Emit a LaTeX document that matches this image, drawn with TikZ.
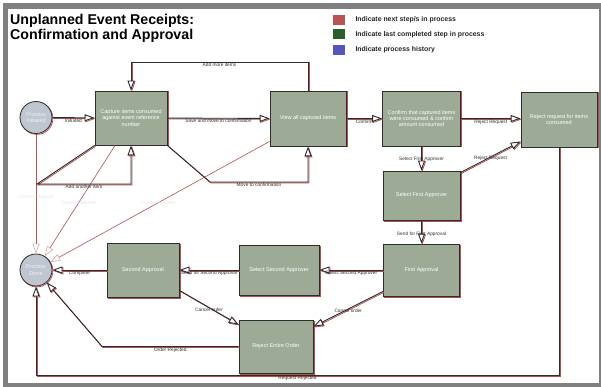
\documentclass[tikz,border=0pt]{standalone}
\usepackage{fontspec}
\setmainfont{Liberation Sans}
\usetikzlibrary{arrows.meta,positioning,calc}

\definecolor{framegray}{RGB}{128,128,128}
\definecolor{boxfill}{RGB}{156,170,150}
\definecolor{boxline}{RGB}{45,45,45}
\definecolor{rimred}{RGB}{180,80,80}
\definecolor{circfill}{RGB}{192,197,210}
\definecolor{keyred}{RGB}{186,84,84}
\definecolor{keygreen}{RGB}{44,94,44}
\definecolor{keyblue}{RGB}{86,86,184}
\definecolor{lblgray}{RGB}{50,50,50}
\definecolor{faintgray}{RGB}{228,228,228}

\tikzset{
  redrim/.style={preaction={draw=rimred, line width=0.8pt, transform canvas={shift={(0.9pt,-0.9pt)}}}},
  stepbox/.style={draw=boxline, fill=boxfill, line width=0.8pt, redrim, inner sep=1pt,
    align=center, text=white, font=\fontsize{5.5}{6.4}\selectfont},
  endpoint/.style={circle, draw=boxline, fill=circfill, line width=0.8pt, redrim,
    minimum size=32pt, inner sep=0pt, align=center, text=white!90!gray,
    font=\fontsize{5.5}{6.4}\selectfont},
  conn/.style={draw=boxline, line width=0.9pt, redrim,
    -{Triangle[length=10pt, width=7pt, fill=white]}},
  hist/.style={draw=rimred, line width=0.6pt,
    -{Triangle[length=10pt, width=7pt, fill=white, color=rimred!50]}},
  lbl/.style={font=\fontsize{4.8}{5.5}\selectfont, text=lblgray, inner sep=0.6pt},
  faint/.style={font=\fontsize{4.8}{5.5}\selectfont, text=faintgray, inner sep=0.6pt},
  keybox/.style={minimum width=12pt, minimum height=10pt, inner sep=0pt},
  keytext/.style={anchor=west, font=\fontsize{6.9}{8}\selectfont\bfseries, text=black!85},
}

\begin{document}
\begin{tikzpicture}[x=1pt, y=-1pt]
    \useasboundingbox (0,0) rectangle (601,387);

    % Frame
    \fill[framegray] (3,3) rectangle (601,387);
    \fill[white] (8,9) rectangle (598.5,383);

    % Title
    \node[anchor=base west, inner sep=0pt, font=\fontsize{14.2}{16}\selectfont\bfseries] (title1) at (10,24.7) {Unplanned Event Receipts:};
    \node[anchor=base west, inner sep=0pt, font=\fontsize{14.2}{16}\selectfont\bfseries] (title2) at (10,39.3) {Confirmation and Approval};

    % Legend
    \node[keybox, fill=keyred] (kred) at (339,20) {};
    \node[keybox, fill=keygreen] (kgreen) at (339,34.5) {};
    \node[keybox, fill=keyblue] (kblue) at (339,50) {};
    \node[keytext] at (352,20) {Indicate next step/s in process};
    \node[keytext] at (352,34.5) {Indicate last completed step in process};
    \node[keytext] at (352,50) {Indicate process history};

    % Steps
    \node[endpoint] (init) at (36,117.5) {Process\\Initiated};
    \node[stepbox, minimum width=72pt, minimum height=54pt] (capture) at (131,118) {Capture items consumed\\against event reference\\number};
    \node[stepbox, minimum width=76pt, minimum height=55pt] (view) at (308,118.5) {View all captured items};
    \node[stepbox, minimum width=78pt, minimum height=55pt] (confirm) at (421.5,118.5) {Confirm that captured items\\were consumed \& confirm\\amount consumed};
    \node[stepbox, minimum width=76pt, minimum height=55pt] (rejreq) at (559,119.5) {Reject request for items\\consumed};
    \node[stepbox, minimum width=77pt, minimum height=49pt] (selfirst) at (421.5,195.5) {Select First Approver};
    \node[stepbox, minimum width=76pt, minimum height=52pt] (firstappr) at (421.5,270) {First Approval};
    \node[stepbox, minimum width=80pt, minimum height=50pt] (selsecond) at (279,270) {Select Second Approver};
    \node[stepbox, minimum width=72pt, minimum height=54pt] (secondappr) at (143,270) {Second Approval};
    \node[stepbox, minimum width=74pt, minimum height=53pt] (rejorder) at (276,346.5) {Reject Entire Order};
    \node[endpoint] (done) at (36,270) {Process\\Done};

    % Cancel requests
    \draw[hist] (init) -- node[faint, pos=0.53] {Cancel Request} (done);
    \draw[hist] ([xshift=-16pt]capture.south) -- node[faint, pos=0.52] {Cancel Request} (done);
    \draw[hist] ([yshift=5pt]view.south west) -- node[faint, pos=0.51] {Cancel Request} (done);

    % Capture and confirm
    \draw[conn] (init) -- node[lbl, below] {Initiated} (capture);
    \draw[conn] (capture) -- node[lbl, below] {Save and move to confirmation} (view);
    \draw[conn] (view.north) -- (view.north |- 0,62) -- node[lbl, below] {Add more items} (capture.north |- 0,62) -- (capture.north);
    \draw[conn] (capture.south west) -- (37,184) -- node[lbl, below] {Add another item} (capture.south |- 0,184) -- (capture.south);
    \draw[conn] (capture.south east) -- (210,182) -- node[lbl, below] {Move to confirmation} (view.south |- 0,182) -- (view.south);
    \draw[conn] (view) -- node[lbl, below] {Confirm} (confirm);
    \draw[conn] (confirm.east) -- node[lbl, below] {Reject Request} (confirm.east -| rejreq.west);

    % Approvals
    \draw[conn] (confirm) -- node[lbl, pos=0.55] {Select First Approver} (selfirst);
    \draw[conn] ([yshift=-2pt]selfirst.north east) -- node[lbl, yshift=-1.5pt] {Reject Request} ([yshift=6pt]rejreq.south west);
    \draw[conn] (selfirst) -- node[lbl, pos=0.6] {Send for First Approval} (firstappr);
    \draw[conn] (firstappr) -- node[lbl, below] {Select Second Approver} (selsecond);
    \draw[conn] (selsecond) -- node[lbl, below] {Send for Second Approval} (secondappr);
    \draw[conn] (secondappr) -- node[lbl, below] {Complete} (done);
    \draw[conn] ([yshift=7pt]secondappr.south east) -- node[lbl, yshift=-2pt] {Cancel order} ([yshift=-5pt]rejorder.north west);
    \draw[conn] ([yshift=5pt]firstappr.south west) -- node[lbl, yshift=-1.5pt] {Cancel order} ([yshift=-7pt]rejorder.north east);

    % Rejections
    \draw[conn] (rejorder.west) -- node[lbl, below] {Order Rejected} (102,346.5) -- (done);
    \draw[conn] (rejreq.south) -- (rejreq.south |- 0,375) -- node[lbl, below] {Request Rejected} (done.south |- 0,375) -- (done.south);
\end{tikzpicture}
\end{document}
